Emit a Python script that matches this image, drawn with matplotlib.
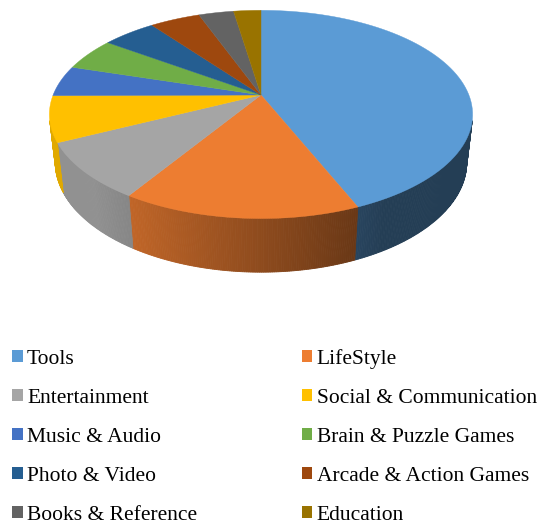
import numpy as np
import matplotlib.pyplot as plt
from matplotlib.patches import Patch, Polygon
from matplotlib.colors import to_rgb

categories = ['Tools', 'LifeStyle', 'Entertainment', 'Social & Communication',
              'Music & Audio', 'Brain & Puzzle Games', 'Photo & Video',
              'Arcade & Action Games', 'Books & Reference', 'Education']
shares = [43.7, 15.3, 8.8, 7.1, 4.8, 5.1, 4.9, 4.6, 3.2, 2.5]
colors = ['#5B9BD5', '#ED7D31', '#A5A5A5', '#FFC000', '#4472C4',
          '#70AD47', '#255E91', '#9E480E', '#636363', '#997300']

# perspective camera for the 3-D pie (pixel space)
tilt = np.radians(28.9)
dist = 4.69
thick = 0.2665
scale = 975.0
cx, cy = 261.0, 95.0


def project(theta, z, r=1.0):
    x = r * np.cos(theta)
    y = r * np.sin(theta)
    ry = y + dist * np.cos(tilt)
    rz = z - dist * np.sin(tilt)
    depth = ry * np.cos(tilt) - rz * np.sin(tilt)
    u = x / depth
    v = (ry * np.sin(tilt) + rz * np.cos(tilt)) / depth
    return cx + scale * u, cy - scale * v


def shade(color, f):
    return tuple(np.clip(np.array(to_rgb(color)) * f, 0, 1))


fig = plt.figure(figsize=(5.42, 5.26), dpi=100)
ax = fig.add_axes([0, 0, 1, 1])
ax.set_xlim(0, 542)
ax.set_ylim(526, 0)
ax.axis('off')

frac = np.cumsum([0] + shares) / sum(shares)
bounds = np.pi / 2 - 2 * np.pi * frac   # clockwise from 12 o'clock

# side wall, only the part facing the camera
lim = np.arcsin(1 / (dist * np.cos(tilt)))
vis_lo, vis_hi = -np.pi + lim, -lim
for i, col in enumerate(colors):
    a0, a1 = bounds[i + 1], bounds[i]
    a0, a1 = max(a0, vis_lo), min(a1, vis_hi)
    if a1 <= a0:
        continue
    steps = np.linspace(a0, a1, max(2, int(np.degrees(a1 - a0) * 2) + 1))
    for s0, s1 in zip(steps[:-1], steps[1:]):
        f = np.clip(0.6 - 0.4 * np.cos((s0 + s1) / 2), 0.4, 0.88)
        c = shade(col, f)
        xt0, yt0 = project(s0, 0)
        xt1, yt1 = project(s1, 0)
        xb1, yb1 = project(s1, -thick)
        xb0, yb0 = project(s0, -thick)
        ax.add_patch(Polygon([(xt0, yt0), (xt1, yt1), (xb1, yb1), (xb0, yb0)],
                             closed=True, facecolor=c, edgecolor=c, lw=0.6))

# top face
x0, y0 = project(0, 0, r=0)
for i, col in enumerate(colors):
    t = np.linspace(bounds[i], bounds[i + 1], 80)
    xs, ys = project(t, 0)
    pts = np.column_stack([np.r_[x0, xs], np.r_[y0, ys]])
    ax.add_patch(Polygon(pts, closed=True, facecolor=col, edgecolor=col, lw=0.3))

# legend, filled row by row
order = list(range(0, 10, 2)) + list(range(1, 10, 2))
handles = [Patch(facecolor=colors[k], edgecolor='none') for k in order]
labels = [categories[k] for k in order]
fig.legend(handles, labels, ncol=2, frameon=False,
           loc='upper left', bbox_to_anchor=(12 / 542, 1 - 349 / 526),
           prop={'family': 'Liberation Serif', 'size': 15.5},
           handlelength=0.5, handleheight=0.47, handletextpad=0.2,
           labelspacing=0.93, columnspacing=4.85,
           borderpad=0, borderaxespad=0)

fig.savefig('out.png', dpi=100)
